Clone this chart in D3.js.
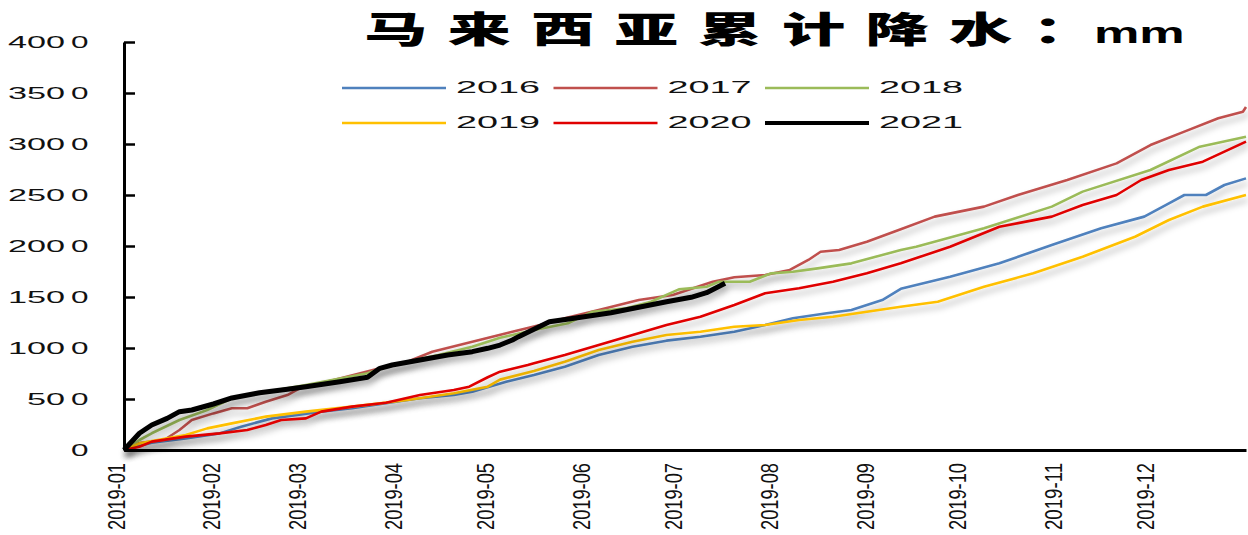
<!DOCTYPE html>
<html><head><meta charset="utf-8">
<script src="https://cdn.jsdelivr.net/npm/d3@7"></script>
<style>body{margin:0;background:#fff}svg{display:block}</style>
</head><body><svg id="c" width="1248" height="535"></svg>
<script>
// ---- data (day of year 2019, cumulative rainfall mm) ----
const years = ["2016","2017","2018","2019","2020","2021"];
const colors = ["#4F81BD","#C0504D","#9BBB59","#FFC000","#E00000","#000000"];
const s2016 = [[0,0],[9,72],[20,114],[31,163],[38,229],[48,310],[64,376],[74,409],[85,458],[96,507],[107,539],[113,572],[124,670],[133,735],[143,817],[154,931],[165,1013],[176,1072],[187,1111],[198,1160],[208,1225],[217,1291],[228,1340],[236,1373],[246,1470],[252,1580],[268,1699],[284,1830],[301,2010],[317,2173],[331,2288],[339,2418],[344,2500],[351,2500],[357,2598],[364,2663]];
const s2017 = [[0,0],[5,69],[13,98],[18,196],[22,294],[29,359],[35,409],[40,409],[46,474],[53,539],[57,605],[70,700],[83,801],[92,866],[100,964],[113,1062],[126,1160],[135,1225],[143,1291],[154,1373],[167,1471],[178,1520],[191,1650],[198,1693],[208,1716],[216,1765],[222,1863],[226,1944],[232,1961],[241,2042],[252,2165],[263,2288],[279,2386],[290,2500],[306,2647],[322,2810],[333,2990],[344,3121],[355,3252],[363,3317],[364,3363]];
const s2018 = [[0,0],[5,98],[9,164],[18,294],[27,392],[35,507],[42,549],[59,637],[79,752],[87,833],[102,931],[113,1013],[122,1100],[126,1127],[133,1176],[144,1242],[152,1356],[163,1389],[171,1454],[180,1575],[189,1601],[193,1650],[203,1650],[210,1732],[217,1748],[225,1781],[236,1830],[252,1961],[257,1993],[279,2173],[301,2386],[311,2533],[333,2745],[349,2974],[364,3072]];
const s2019 = [[0,0],[5,65],[20,147],[27,212],[35,261],[46,327],[59,376],[74,425],[92,490],[107,556],[118,621],[122,690],[133,775],[143,866],[154,980],[165,1062],[176,1127],[187,1160],[198,1209],[208,1225],[219,1275],[230,1307],[241,1356],[252,1405],[264,1454],[279,1601],[295,1732],[311,1895],[328,2091],[339,2255],[350,2386],[364,2500]];
const s2020 = [[0,0],[5,32],[9,82],[20,131],[31,163],[40,196],[46,245],[51,294],[59,310],[64,376],[74,425],[85,464],[96,539],[107,588],[112,621],[118,713],[122,768],[131,833],[133,850],[143,931],[154,1029],[165,1127],[176,1225],[187,1307],[198,1422],[208,1536],[219,1585],[230,1650],[241,1732],[252,1830],[268,1993],[284,2189],[301,2288],[311,2402],[322,2500],[330,2647],[339,2745],[350,2827],[364,3023]];
const s2021 = [[0,0],[5,164],[9,245],[14,310],[18,376],[22,392],[29,451],[35,510],[44,562],[53,595],[59,621],[70,670],[79,713],[83,801],[87,833],[96,882],[105,931],[113,964],[118,997],[122,1029],[126,1078],[128,1111],[138,1258],[146,1291],[158,1346],[167,1399],[176,1454],[184,1497],[189,1542],[195,1634]];
const seriesValues = [s2016,s2017,s2018,s2019,s2020,s2021];
const yTicks = [0,500,1000,1500,2000,2500,3000,3500,4000];
const titleText = "马来西亚累计降水";
const titleColon = "：";
const titleUnit = "mm";

// ---- drawing ----
const svg = d3.select("#c");
const start = new Date(2019,0,1);
const toDate = d => d3.timeDay.offset(start, d);
const x = d3.scaleTime().domain([start, new Date(2019,11,31)]).range([124,1246]);
const y = d3.scaleLinear().domain([0,4000]).range([450,42]);

const defs = svg.append("defs");
const f = defs.append("filter").attr("id","sh").attr("x","-5%").attr("y","-20%").attr("width","110%").attr("height","150%");
f.append("feDropShadow").attr("dx",2).attr("dy",5).attr("stdDeviation",3)
  .attr("flood-color","#000").attr("flood-opacity",0.3);

// title
const sx = 1.76;
const tg = svg.append("g").attr("transform",`translate(0,43) scale(${sx},1)`);
const tt = tg.append("text").attr("y",0)
  .style("font-family","'Noto Sans CJK SC'").style("font-weight",900)
  .style("font-size","36px").attr("fill","#000");
tt.append("tspan").attr("x",364/sx).text(titleText).style("letter-spacing","11.5px");
tt.append("tspan").attr("x",1032/sx).text(titleColon);
tt.append("tspan").attr("x",1094/sx).text(titleUnit)
  .style("font-family","'Liberation Sans'").style("font-weight",700).style("font-size","29px");

// lines
const line = d3.line().x(d=>x(toDate(d[0]))).y(d=>y(d[1]));
svg.append("g").selectAll("path").data(seriesValues).join("path")
  .attr("d", line).attr("fill","none")
  .attr("stroke",(d,i)=>colors[i])
  .attr("stroke-width",(d,i)=>i===5?5:2.6)
  .attr("stroke-linejoin","round")
  .attr("filter","url(#sh)");

// y axis
const ya = svg.append("g").attr("transform","translate(124,0)")
  .call(d3.axisRight(y).tickValues(yTicks).tickSize(11).tickSizeOuter(0).tickFormat(""));
ya.select(".domain").attr("stroke","#000").attr("stroke-width",3);
ya.selectAll(".tick line").attr("stroke","#000").attr("stroke-width",2.5);
const yl = svg.append("g").style("font-family","'Liberation Sans'").style("font-size","16px").attr("fill","#111");
yTicks.forEach(v=>{
  const s = String(v), rest = s.slice(0,-1), last = s.slice(-1);
  if(rest.length){
    yl.append("text").attr("x",65).attr("y",y(v)).attr("dy","0.36em")
      .attr("text-anchor","end").attr("textLength",rest.length*19).attr("lengthAdjust","spacingAndGlyphs").text(rest);
  }
  yl.append("text").attr("x",71).attr("y",y(v)).attr("dy","0.36em")
    .attr("textLength",17.5).attr("lengthAdjust","spacingAndGlyphs").text(last);
});

// x axis
const xa = svg.append("g").attr("transform","translate(0,450)")
  .call(d3.axisBottom(x).ticks(d3.timeMonth.every(1)).tickSize(0).tickSizeOuter(0).tickFormat(d3.timeFormat("%Y-%m")));
xa.select(".domain").attr("stroke","#000").attr("stroke-width",3);
xa.selectAll(".tick text")
  .attr("transform","rotate(-90)").attr("x",-13).attr("y",0).attr("dy",0)
  .attr("text-anchor","end").attr("fill","#111")
  .attr("textLength",67).attr("lengthAdjust","spacingAndGlyphs")
  .style("font-family","'Liberation Sans'").style("font-size","23px");

// legend
const lg = svg.append("g").selectAll("g").data(years).join("g")
  .attr("transform",(d,i)=>`translate(${342+(i%3)*211.5},${i<3?88:123})`);
lg.append("line").attr("x1",0).attr("x2",104).attr("y1",0).attr("y2",0)
  .attr("stroke",(d,i)=>colors[i]).attr("stroke-width",(d,i)=>i===5?4:2.6);
lg.append("text").attr("x",114).attr("y",5).text(d=>d)
  .attr("textLength",84).attr("lengthAdjust","spacingAndGlyphs")
  .style("font-family","'Liberation Sans'").style("font-size","17px").attr("fill","#111");
</script></body></html>
